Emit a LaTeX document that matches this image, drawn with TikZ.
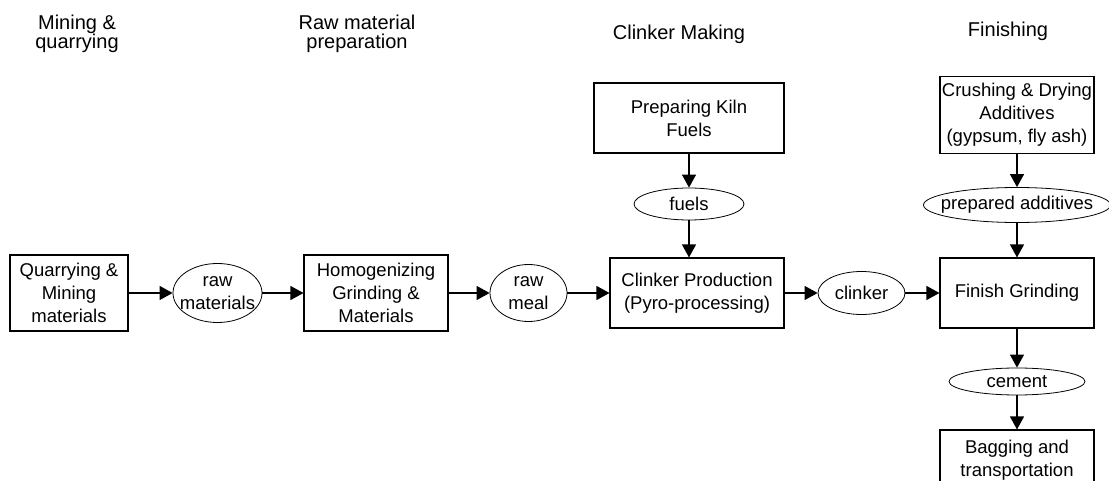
\documentclass[tikz,border=0pt]{standalone}
\usepackage{fontspec}
\setmainfont{Liberation Sans}
\usetikzlibrary{shapes.geometric,arrows.meta}
\tikzset{
  stagebox/.style={rectangle, draw, line width=1.1pt, align=center, inner sep=1pt, font=\fontsize{18.5}{23}\selectfont},
  flowoval/.style={ellipse, draw, line width=0.8pt, align=center, inner sep=-12pt, font=\fontsize{18.5}{23}\selectfont},
  stagetitle/.style={align=center, font=\fontsize{20}{19}\selectfont},
  flow/.style={-{Triangle[length=13pt,width=14pt]}, line width=1.2pt}
}
\begin{document}
\begin{tikzpicture}[x=1pt,y=-1pt]
    \fill[white] (0,0) rectangle (1109,481);
    \useasboundingbox (0,0) rectangle (1109,481);
    \clip (0,0) rectangle (1109,481);

    \node[stagetitle] (mq) at (77,34) {Mining \&\\quarrying};
    \node[stagetitle] (rp) at (357,34) {Raw material\\preparation};
    \node[stagetitle] (cm) at (679,34) {Clinker Making};
    \node[stagetitle] (fi) at (1008,31) {Finishing};

    \node[stagebox, minimum width=118, minimum height=76] (q) at (69,293) {Quarrying \&\\Mining\\materials};
    \node[flowoval, minimum width=89, minimum height=59] (rm) at (217.5,293) {raw\\materials};
    \node[stagebox, minimum width=144, minimum height=76] (hg) at (376,293) {Homogenizing\\Grinding \&\\Materials};
    \node[flowoval, minimum width=77, minimum height=57] (ml) at (528.5,293) {raw\\meal};
    \node[stagebox, minimum width=190, minimum height=70] (kf) at (689,118) {Preparing Kiln\\Fuels};
    \node[flowoval, minimum width=110, minimum height=32] (fu) at (689,204) {fuels};
    \node[stagebox, minimum width=174, minimum height=70] (cp) at (697,293) {Clinker Production\\(Pyro-processing)};
    \node[flowoval, minimum width=87, minimum height=43] (ck) at (861.5,293) {clinker};
    \node[stagebox, minimum width=154, minimum height=77] (cd) at (1017,115) {Crushing \& Drying\\Additives\\(gypsum, fly ash)};
    \node[flowoval, minimum width=187, minimum height=35] (pa) at (1017,205) {prepared additives};
    \node[stagebox, minimum width=154, minimum height=70] (fg) at (1017,293) {Finish Grinding};
    \node[flowoval, minimum width=136, minimum height=27] (ce) at (1017,381.5) {cement};
    \node[stagebox, minimum width=154, minimum height=60] (bt) at (1017,460) {Bagging and\\transportation};

    \draw[flow] (q) -- (rm);
    \draw[flow] (rm) -- (hg);
    \draw[flow] (hg) -- (ml);
    \draw[flow] (ml) -- (cp);
    \draw[flow] (kf) -- (fu);
    \draw[flow] (fu) -- (fu |- cp.north);
    \draw[flow] (cp) -- (ck);
    \draw[flow] (ck) -- (fg);
    \draw[flow] (cd) -- (pa);
    \draw[flow] (pa) -- (fg);
    \draw[flow] (fg) -- (ce);
    \draw[flow] (ce) -- (bt);
\end{tikzpicture}
\end{document}
